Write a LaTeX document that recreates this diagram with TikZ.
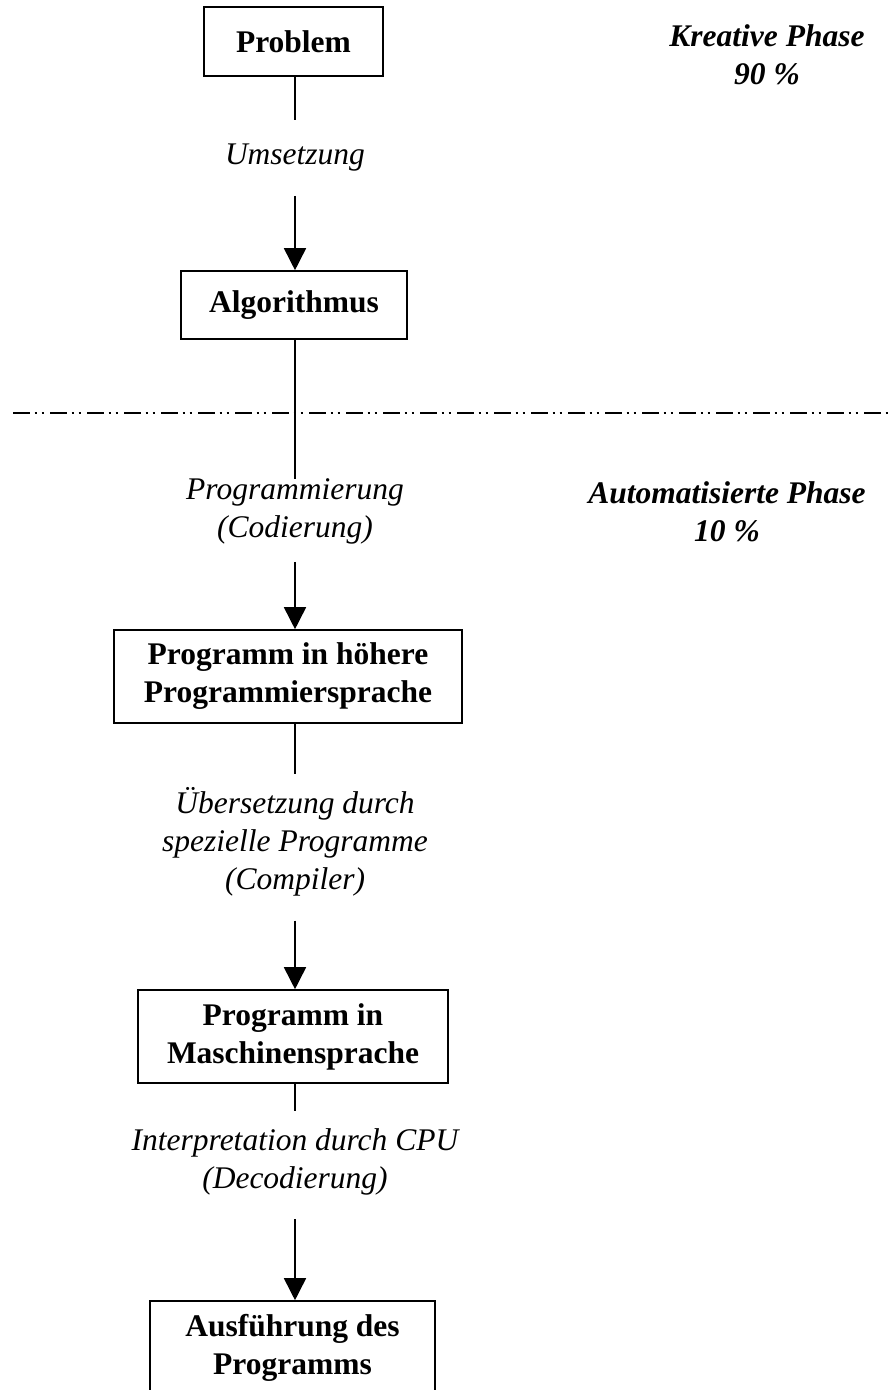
\documentclass[tikz,border=0pt]{standalone}
\usepackage{fontspec}
\setmainfont{Liberation Serif}
\usetikzlibrary{arrows.meta,positioning}

\begin{document}
\begin{tikzpicture}[x=1pt,y=-1pt,
  box/.style={draw,line width=1.6pt,align=center,inner sep=0pt,
    font=\fontsize{31.5}{38}\selectfont\bfseries},
  steplabel/.style={align=center,inner xsep=0pt,inner ysep=24pt,
    font=\fontsize{31.5}{38}\selectfont\itshape},
  phase/.style={align=center,inner sep=0pt,
    font=\fontsize{31.5}{38}\selectfont\bfseries\itshape},
  link/.style={line width=1.6pt},
  flow/.style={line width=1.6pt,-{Triangle[width=22pt,length=22pt]}},
  sepline/.style={line width=1.8pt,
    dash pattern=on 17pt off 4.5pt on 2.5pt off 4.5pt on 2.5pt off 6pt}]
\useasboundingbox (0,0) rectangle (890,1390);

% boxes
\node[box,minimum width=179pt,minimum height=69pt] (problem) at (293.5,41.5) {Problem};
\node[box,minimum width=226pt,minimum height=68pt] (algo) at (294,305) {Algorithmus};
\node[box,minimum width=348pt,minimum height=93pt] (hoehere) at (288,676.5) {Programm in h\"ohere\\Programmiersprache};
\node[box,minimum width=310pt,minimum height=93pt] (maschine) at (293,1036.5) {Programm in\\Maschinensprache};
\node[box,minimum width=285pt,minimum height=93pt] (ausfuehrung) at (292.5,1347.5) {Ausf\"uhrung des\\Programms};

% labels on the connectors
\node[steplabel] (umsetzung) at (295,158) {Umsetzung};
\node[steplabel] (codierung) at (295,511) {Programmierung\\(Codierung)};
\node[steplabel] (compiler) at (295,842) {\"Ubersetzung durch\\spezielle Programme\\(Compiler)};
\node[steplabel] (decodierung) at (295,1162) {Interpretation durch CPU\\(Decodierung)};

% phases
\node[phase] (kreativ) at (767,55) {Kreative Phase\\90 \%};
\node[phase] (auto) at (727,512) {Automatisierte Phase\\10 \%};

\draw[sepline] (13,413) -- (890,413);

\draw[link] (umsetzung.north |- problem.south) -- (umsetzung.north);
\draw[flow] (umsetzung.south) -- (umsetzung.south |- algo.north);
\draw[link,shorten >=-25pt] (codierung.north |- algo.south) -- (codierung.north);
\draw[flow,shorten <=-6pt] (codierung.south) -- (codierung.south |- hoehere.north);
\draw[link,shorten >=-11pt] (compiler.north |- hoehere.south) -- (compiler.north);
\draw[flow] (compiler.south) -- (compiler.south |- maschine.north);
\draw[link,shorten >=-6pt] (decodierung.north |- maschine.south) -- (decodierung.north);
\draw[flow] (decodierung.south) -- (decodierung.south |- ausfuehrung.north);
\end{tikzpicture}
\end{document}
